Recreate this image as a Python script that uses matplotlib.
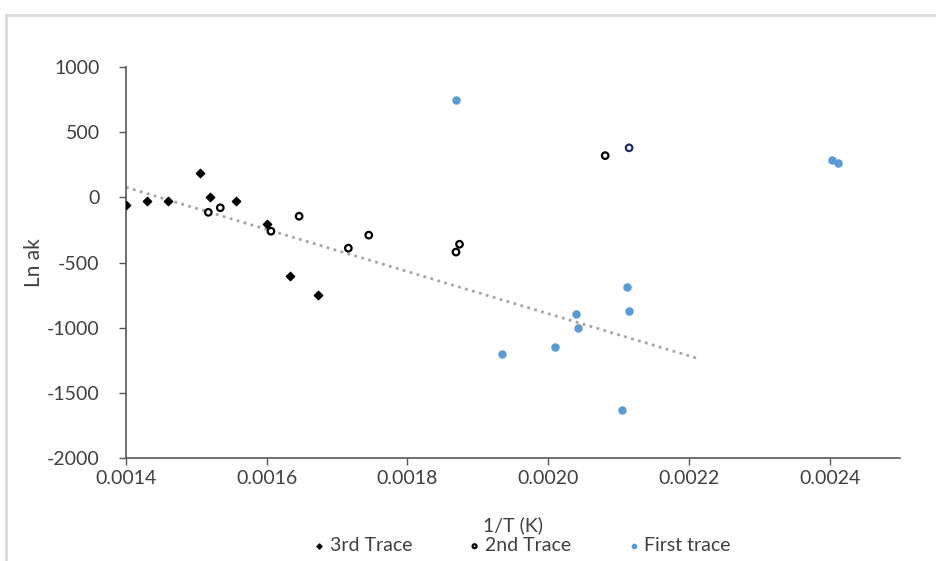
import matplotlib
matplotlib.use('Agg')
import matplotlib.pyplot as plt
from matplotlib.lines import Line2D

plt.rcParams['font.family'] = ['Lato', 'DejaVu Sans']
plt.rcParams['axes.unicode_minus'] = False

# 3rd trace (black diamonds)
x3 = [0.00140, 0.00143, 0.00146, 0.001505, 0.00152, 0.001556, 0.00160, 0.001633, 0.001673]
y3 = [-55, -25, -25, 190, 0, -25, -205, -600, -750]

# 2nd trace (open circles)
x2 = [0.001517, 0.001534, 0.001606, 0.001646, 0.001716, 0.001745, 0.001869, 0.001874, 0.002081, 0.002115]
y2 = [-115, -80, -260, -145, -390, -290, -420, -360, 320, 380]

# first trace (blue dots)
x1 = [0.001869, 0.001934, 0.002009, 0.00204, 0.002043, 0.002112, 0.002115, 0.002105, 0.002403, 0.002412]
y1 = [750, -1200, -1145, -897, -1000, -690, -875, -1635, 285, 265]

# dotted trendline end points
trend_x = [0.0014, 0.002215]
trend_y = [77, -1240]

xticks = [0.0014, 0.0016, 0.0018, 0.0020, 0.0022, 0.0024]
yticks = [-2000, -1500, -1000, -500, 0, 500, 1000]

fig = plt.figure(figsize=(9.36, 5.61), dpi=100)
ax = fig.add_axes([126/936, 1 - 458/561, (900-126)/936, (458-67)/561])

ax.plot(trend_x, trend_y, color='#a6a6a6', lw=2, ls=(0, (1, 1.6)), zorder=1)
ax.scatter(x3, y3, marker='D', s=18, color='black', label='3rd Trace', zorder=3)
ax.scatter(x2, y2, marker='o', s=22, facecolors='white',
           edgecolors=['black'] * (len(x2) - 1) + ['#1f2a60'], linewidths=1.6,
           label='2nd Trace', zorder=3)
ax.scatter(x1, y1, marker='o', s=26, color='#5b9bd5', label='First trace', zorder=3)

ax.set_xlim(0.0014, 0.0025)
ax.set_ylim(-2000, 1000)
ax.set_xticks(xticks)
ax.set_xticklabels(['%.4f' % v for v in xticks])
ax.set_yticks(yticks)
ax.tick_params(axis='both', labelsize=14, colors='#595959', labelcolor='#404040',
               length=5, width=1, direction='out')
ax.tick_params(axis='y', pad=14)
for s in ['top', 'right']:
    ax.spines[s].set_visible(False)
for s in ['left', 'bottom']:
    ax.spines[s].set_color('#595959')
    ax.spines[s].set_linewidth(1.2)

ax.set_xlabel('1/T (K)', fontsize=14, color='#404040', labelpad=21)
ax.set_ylabel('Ln ak', fontsize=15, color='#404040', labelpad=2)

leg = ax.legend(loc='upper center', bbox_to_anchor=(0.513, -0.178), ncol=3, frameon=False,
                fontsize=14, markerscale=0.6, handletextpad=0.35, columnspacing=3.0,
                handlelength=0.4, labelcolor='#404040', borderpad=0)

# light grey chart frame
fig.add_artist(Line2D([6/936, 1], [1 - 15/561] * 2, color='#d9d9d9', lw=2))
fig.add_artist(Line2D([6/936] * 2, [0, 1 - 15/561], color='#d9d9d9', lw=2))

fig.savefig('out.png', dpi=100)
